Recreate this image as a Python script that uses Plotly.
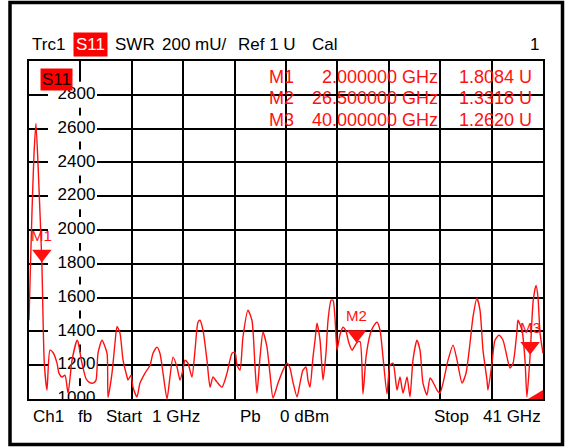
import plotly.graph_objects as go

# ---------------- data ----------------
freq_ghz = [1.00, 1.10, 1.23, 1.39, 1.54, 1.75, 2.00, 2.19, 2.40, 2.63, 2.87, 3.18, 3.33, 3.57, 3.80,
            4.04, 4.35, 4.74, 4.81, 5.12, 5.44, 5.67, 5.98, 6.21, 6.37, 6.68, 7.07, 7.15, 7.46, 7.69,
            7.85, 8.08, 8.32, 8.63, 8.70, 8.94, 9.09, 9.40, 9.64, 10.03, 10.42, 10.65, 10.96, 11.19,
            11.43, 11.74, 11.97, 12.21, 12.52, 12.75, 12.98, 13.14, 13.37, 13.68, 13.92, 14.15, 14.31,
            14.54, 14.85, 15.09, 15.32, 15.63, 16.02, 16.41, 16.80, 17.03, 17.19, 17.42, 17.65, 18.04,
            18.35, 18.59, 18.74, 18.98, 19.21, 19.52, 19.75, 19.99, 20.38, 20.77, 21.08, 21.31, 21.54,
            21.86, 22.09, 22.32, 22.56, 22.71, 22.87, 23.10, 23.26, 23.41, 23.65, 23.88, 24.11, 24.27,
            24.51, 24.66, 24.81, 24.97, 25.20, 25.44, 25.67, 25.90, 26.14, 26.50, 26.76, 26.99, 27.23,
            27.54, 27.77, 28.08, 28.32, 28.55, 28.86, 29.09, 29.33, 29.64, 29.87, 30.11, 30.42, 30.65,
            30.88, 31.19, 31.43, 31.66, 31.97, 32.21, 32.44, 32.75, 32.98, 33.22, 33.61, 34.00, 34.31,
            34.70, 35.01, 35.32, 35.55, 35.86, 36.10, 36.33, 36.64, 36.72, 37.03, 37.26, 37.58, 37.89,
            38.20, 38.43, 38.67, 38.98, 39.05, 39.37, 39.60, 39.75, 40.00, 40.24, 40.46, 40.61, 40.77,
            41.00]
swr_mu = [1466, 1750, 2100, 2450, 2630, 2300, 1808, 1212, 1053, 1289, 1275, 1212, 1153, 1130, 1141,
          1035, 1230, 1348, 1340, 1212, 1120, 1100, 1094, 1110, 1271, 1348, 1271, 1010, 1153, 1330,
          1430, 1390, 1230, 1130, 1112, 1141, 1070, 1012, 1094, 1153, 1200, 1271, 1307, 1271,
          1153, 1000, 1130, 1248, 1189, 1112, 1171, 1230, 1212, 1130, 1289, 1454, 1466,
          1407, 1230, 1070, 1130, 1100, 1070, 1153, 1271, 1277, 1200, 1171, 1366, 1525,
          1466, 1189, 1035, 1248, 1395, 1307, 1153, 1006, 1094, 1171, 1212, 1183, 1100,
          1012, 1094, 1171, 1189, 1112, 1070, 1248, 1348, 1448, 1348, 1112, 1271, 1466,
          1584, 1584, 1484, 1289, 1380, 1425, 1400, 1330, 1289, 1332, 1340, 1030, 1250,
          1380, 1425, 1454, 1407, 1248, 1030, 1200, 1212, 1053, 1130, 1035, 1130, 1012,
          1230, 1348, 1289, 1094, 1024, 1124, 1100, 1053, 1035, 1094, 1230, 1319, 1230,
          1094, 1153, 1330, 1484, 1596, 1525, 1289, 1112, 1053, 1212, 1348, 1378, 1348,
          1248, 1183, 1212, 1407, 1466, 1407, 1230, 1012, 1262, 1584, 1672, 1602, 1390,
          1271]

marker_names = ["M1", "M2", "M3"]
marker_freq = [2.0, 26.5, 40.0]
marker_swr = [1808.4, 1331.8, 1262.0]
marker_freq_text = ["2.000000 GHz", "26.500000 GHz", "40.000000 GHz"]
marker_val_text = ["1.8084 U", "1.3318 U", "1.2620 U"]

y_tick_vals = [1000, 1200, 1400, 1600, 1800, 2000, 2200, 2400, 2600, 2800]
x_start, x_stop, x_div = 1, 41, 4
y_min, y_max, y_div = 1000, 3000, 200

# ---------------- geometry helpers (pixels -> paper / data) ----------------
W, H = 565, 447
PL, PR, PT, PB = 29, 543, 61, 399
def paper_x(px):
    return (px - PL) / (PR - PL)
def paper_y(py):
    return (PB - py) / (PB - PT)
def data_x(px):
    return x_start + (px - PL) / (PR - PL) * (x_stop - x_start)
units_per_px = (y_max - y_min) / (PB - PT)

RED = "#ff1010"
FONT = "Liberation Sans, Arial, sans-serif"

fig = go.Figure()

# white label boxes for the y tick labels (clipped to plot area)
bx, by = [], []
for v in y_tick_vals:
    x0, x1 = data_x(48), data_x(97)
    y0, y1 = v - 13 * units_per_px, v + 13 * units_per_px
    bx += [x0, x1, x1, x0, x0, None]
    by += [y0, y0, y1, y1, y0, None]
fig.add_trace(go.Scatter(x=bx, y=by, mode="lines", fill="toself", fillcolor="white",
                         line=dict(width=0, color="white"), hoverinfo="skip", showlegend=False))
fig.add_trace(go.Scatter(x=[data_x(76.5)] * len(y_tick_vals), y=y_tick_vals,
                         mode="text", text=[str(v) for v in y_tick_vals],
                         textposition="middle center",
                         textfont=dict(family=FONT, size=17, color="black"),
                         hoverinfo="skip", showlegend=False))

# trace
fig.add_trace(go.Scatter(x=freq_ghz, y=swr_mu, mode="lines",
                         line=dict(color=RED, width=1.4, shape="spline", smoothing=0.6),
                         showlegend=False))

# markers (triangle tip on the data point)
tri_off = 8.5 * units_per_px
fig.add_trace(go.Scatter(x=marker_freq, y=[v + tri_off for v in marker_swr], mode="markers",
                         marker=dict(symbol="triangle-down", size=17, color=RED,
                                     line=dict(width=0)),
                         showlegend=False))

ann = []
for n, f, v in zip(marker_names, marker_freq, marker_swr):
    ann.append(dict(x=f, y=v, xref="x", yref="y", text=n, showarrow=False, yshift=27,
                    font=dict(family=FONT, size=15, color=RED)))

# marker table
row_y = [77, 98, 120]
for n, ft, vt, ry in zip(marker_names, marker_freq_text, marker_val_text, row_y):
    ann.append(dict(x=paper_x(267), y=paper_y(ry), xref="paper", yref="paper", text=n,
                    xanchor="left", yanchor="middle", showarrow=False,
                    font=dict(family=FONT, size=18, color=RED)))
    ann.append(dict(x=paper_x(440), y=paper_y(ry), xref="paper", yref="paper", text=ft,
                    xanchor="right", yanchor="middle", showarrow=False,
                    font=dict(family=FONT, size=18, color=RED)))
    ann.append(dict(x=paper_x(534), y=paper_y(ry), xref="paper", yref="paper", text=vt,
                    xanchor="right", yanchor="middle", showarrow=False,
                    font=dict(family=FONT, size=18, color=RED)))

# S11 tag inside the plot
ann.append(dict(x=paper_x(40), y=paper_y(80), xref="paper", yref="paper", text="S11",
                xanchor="left", yanchor="middle", showarrow=False, bgcolor="#ff0000",
                borderpad=1, font=dict(family=FONT, size=17, color="#200000")))

# header
def head(text, px, py, color="black", bg=None, size=17, anchor="left"):
    d = dict(x=paper_x(px), y=paper_y(py), xref="paper", yref="paper", text=text,
             xanchor=anchor, yanchor="middle", showarrow=False,
             font=dict(family=FONT, size=size, color=color))
    if bg:
        d["bgcolor"] = bg
        d["borderpad"] = 2
    return d

hy = 45
ann += [head("Trc1", 30, hy), head("S11", 73, hy, color="white", bg="#ff0000"),
        head("SWR", 113, hy), head("200 mU/", 160, hy), head("Ref 1 U", 236, hy),
        head("Cal", 310, hy), head("1", 541, hy, anchor="right")]
fy = 416
ann += [head("Ch1", 31, fy), head("fb", 76, fy), head("Start", 104, fy), head("1 GHz", 150, fy),
        head("Pb", 238, fy), head("0 dBm", 278, fy), head("Stop", 432, fy),
        head("41 GHz", 543, fy, anchor="right")]

shapes = [
    # outer frame
    dict(type="rect", xref="paper", yref="paper", x0=paper_x(10), x1=paper_x(562.5),
         y0=paper_y(444.5), y1=paper_y(2.5), line=dict(color="black", width=3.5), layer="above"),
    # red reference wedge at bottom right
    dict(type="path", xref="paper", yref="paper",
         path=f"M {paper_x(528)} {paper_y(399)} L {paper_x(543)} {paper_y(390)} L {paper_x(543)} {paper_y(399)} Z",
         fillcolor=RED, line=dict(width=0), layer="above"),
]

fig.update_layout(
    width=W, height=H, autosize=False,
    margin=dict(l=PL, r=W - PR, t=PT, b=H - PB, pad=0),
    paper_bgcolor="white", plot_bgcolor="white",
    showlegend=False, annotations=ann, shapes=shapes,
    xaxis=dict(range=[x_start, x_stop], tick0=x_start, dtick=x_div, showgrid=True,
               gridcolor="black", gridwidth=1.6, showticklabels=False, ticks="",
               zeroline=False, showline=True, mirror=True, linecolor="black", linewidth=2),
    yaxis=dict(range=[y_min, y_max], tick0=y_min, dtick=y_div, showgrid=True,
               gridcolor="black", gridwidth=1.6, showticklabels=False, ticks="",
               zeroline=False, showline=True, mirror=True, linecolor="black", linewidth=2),
)

fig.write_html("out.html", config={"displayModeBar": False},
               post_script="document.body.style.margin='0';")
